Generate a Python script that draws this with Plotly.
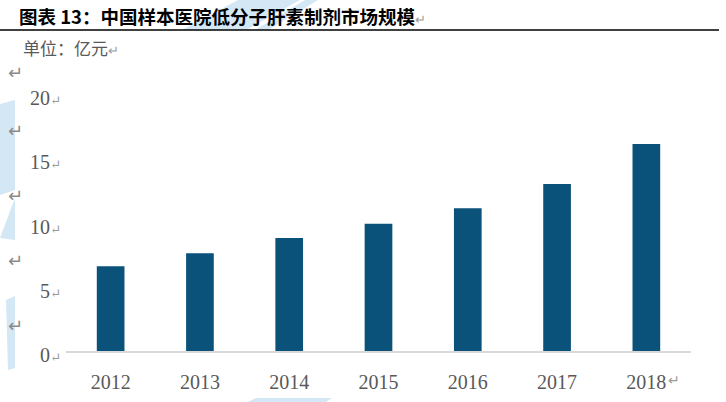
import plotly.graph_objects as go

years = ["2012", "2013", "2014", "2015", "2016", "2017", "2018"]
values = [6.6, 7.6, 8.8, 9.9, 11.1, 13.0, 16.1]
y_ticks = [0, 5, 10, 15, 20]

W, H = 726, 402
L, R, T, B = 66, 35, 94, 51
pw, ph = W - L - R, H - T - B

def px(x):
    return (x - L) / pw

def py(y):
    return (H - B - y) / ph

GREY = "#595959"
ARROW = "<span style='color:#9a9a9a;font-size:13px'>↵</span>"
SERIF = "Liberation Serif, DejaVu Serif, serif"
CJK = "Noto Sans CJK SC, sans-serif"

fig = go.Figure()
fig.add_trace(go.Bar(x=years, y=values, marker=dict(color="#0a527a", line=dict(width=0)),
                     hoverinfo="x+y"))

def poly(points, color="#d3e7f4"):
    path = "M " + " L ".join(f"{px(a):.4f},{py(b):.4f}" for a, b in points) + " Z"
    return dict(type="path", xref="paper", yref="paper", path=path,
                fillcolor=color, line=dict(width=0), layer="below")

shapes = [
    # watermark fragments
    poly([(0, 104), (15, 100), (15, 190), (0, 195)]),
    poly([(15, 198), (15, 240), (0, 238)]),
    poly([(6, 300), (15, 296), (15, 368), (8, 370)]),
    poly([(182, 30), (238, 0), (300, 0), (246, 30)]),
    poly([(255, 30), (305, 0), (318, 0), (268, 30)]),
    poly([(248, 402), (256, 398), (332, 398), (326, 402)]),
    # title rule
    dict(type="line", xref="paper", yref="paper", x0=px(0), x1=px(719), y0=py(30), y1=py(30),
         line=dict(color="#000000", width=1.5)),
]

annotations = [
    dict(text="<b>图表 13：中国样本医院低分子肝素制剂市场规模</b>" + "<span style='color:#9a9a9a;font-size:13px'>↵</span>",
         x=px(17), y=py(16), xref="paper", yref="paper", xanchor="left", yanchor="middle",
         showarrow=False, font=dict(family=CJK, size=18.5, color="#000000")),
    dict(text="单位：亿元" + ARROW, x=px(21), y=py(48), xref="paper", yref="paper",
         xanchor="left", yanchor="middle", showarrow=False,
         font=dict(family=CJK, size=17, color=GREY)),
    dict(text="↵", x=6, y=py(380), xref="x", yref="paper", xshift=28, yanchor="middle",
         showarrow=False, font=dict(family="DejaVu Sans", size=14, color="#9a9a9a")),
]
for yy in [72, 130, 195, 260, 325]:
    annotations.append(dict(text="↵", x=px(6), y=py(yy), xref="paper", yref="paper",
                            xanchor="left", yanchor="middle", showarrow=False,
                            font=dict(family="DejaVu Sans", size=18, color="#8a8a8a")))

fig.update_layout(
    width=W, height=H,
    margin=dict(l=L, r=R, t=T, b=B, pad=0, autoexpand=False),
    paper_bgcolor="#ffffff", plot_bgcolor="#ffffff",
    bargap=0.69,
    showlegend=False,
    shapes=shapes,
    annotations=annotations,
    xaxis=dict(type="category", showline=True, linecolor="#d9d9d9", linewidth=1.5, showgrid=False,
               ticks="", tickfont=dict(family=SERIF, size=20, color=GREY),
               ticklabelstandoff=12, automargin=False, fixedrange=True),
    yaxis=dict(range=[0, 20], tickvals=y_ticks,
               ticktext=[f"{v}" + ARROW for v in y_ticks],
               showline=False, showgrid=False, zeroline=False, ticks="",
               tickfont=dict(family=SERIF, size=20, color=GREY),
               ticklabelshift=4, ticklabelstandoff=4, automargin=False, fixedrange=True),
)

fig.write_html("out.html", config={"displayModeBar": False},
               post_script="document.body.style.margin='0';")
